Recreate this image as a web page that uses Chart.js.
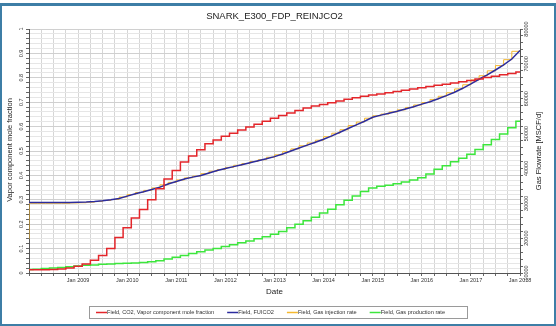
<!DOCTYPE html>
<html>
<head>
<meta charset="utf-8">
<script src="https://cdn.jsdelivr.net/npm/chart.js@4.4.0/dist/chart.umd.min.js"></script>
<style>
  html, body { margin: 0; padding: 0; background: #fff; }
  #frame { position: absolute; left: 0; top: 3px; width: 556px; height: 323px; box-sizing: border-box; border: 2px solid #3d7ea6; border-top-width: 3px; }
  #chart { position: absolute; left: 0; top: 0; }
</style>
</head>
<body>
<div id="frame"></div>
<canvas id="chart" width="556" height="326"></canvas>
<script>
// bimonthly report dates
const dates = [
  '2008-01','2008-03','2008-05','2008-07','2008-09','2008-11',
  '2009-01','2009-03','2009-05','2009-07','2009-09','2009-11',
  '2010-01','2010-03','2010-05','2010-07','2010-09','2010-11',
  '2011-01','2011-03','2011-05','2011-07','2011-09','2011-11',
  '2012-01','2012-03','2012-05','2012-07','2012-09','2012-11',
  '2013-01','2013-03','2013-05','2013-07','2013-09','2013-11',
  '2014-01','2014-03','2014-05','2014-07','2014-09','2014-11',
  '2015-01','2015-03','2015-05','2015-07','2015-09','2015-11',
  '2016-01','2016-03','2016-05','2016-07','2016-09','2016-11',
  '2017-01','2017-03','2017-05','2017-07','2017-09','2017-11',
  '2018-01'
];

const co2Fraction = [
  0.013, 0.013, 0.013, 0.014, 0.016, 0.020,
  0.028, 0.037, 0.052, 0.072, 0.100, 0.145,
  0.185, 0.225, 0.260, 0.300, 0.345, 0.385,
  0.420, 0.455, 0.480, 0.505, 0.530, 0.545,
  0.560, 0.573, 0.586, 0.598, 0.610, 0.622,
  0.634, 0.645, 0.656, 0.666, 0.676, 0.684,
  0.691, 0.698, 0.705, 0.712, 0.718, 0.724,
  0.729, 0.734, 0.739, 0.744, 0.749, 0.754,
  0.759, 0.764, 0.769, 0.774, 0.779, 0.784,
  0.789, 0.795, 0.801, 0.806, 0.812, 0.818,
  0.824
];

const fuico2 = [
  0.289, 0.289, 0.289, 0.289, 0.289, 0.289,
  0.290, 0.291, 0.293, 0.296, 0.300, 0.305,
  0.315, 0.325, 0.333, 0.342, 0.352, 0.365,
  0.375, 0.385, 0.393, 0.400, 0.410, 0.420,
  0.428, 0.436, 0.444, 0.452, 0.460, 0.468,
  0.477, 0.488, 0.500, 0.512, 0.524, 0.536,
  0.548, 0.562, 0.577, 0.592, 0.607, 0.622,
  0.638, 0.647, 0.655, 0.663, 0.672, 0.681,
  0.692, 0.702, 0.714, 0.727, 0.741, 0.757,
  0.775, 0.794, 0.812, 0.832, 0.853, 0.877,
  0.912
];

const injDates = ['2008-01-01', '2008-01-01', '2008-01-15'].concat(dates.slice(1));
const gasInjRate = [
  19800, 28600, 30000,
  30000, 30000, 30000, 30000, 30000,
  30100, 30150, 30300, 30500, 30800, 31100,
  31800, 32500, 33100, 33700, 34400, 35300,
  36000, 36700, 37300, 37800, 38500, 39200,
  39700, 40300, 40900, 41400, 42000, 42500,
  43200, 43900, 44800, 45600, 46500, 47300,
  48100, 49100, 50100, 51100, 52300, 53300,
  54400, 55100, 55600, 56200, 56800, 57500,
  58200, 58900, 59800, 60700, 61700, 62800,
  64000, 65400, 66600, 68000, 69500, 71200,
  73600
];

const gasProdRate = [
  11000, 11100, 11300, 11400, 11600, 11800,
  12000, 12200, 12300, 12500, 12600, 12700,
  12800, 12900, 13000, 13200, 13500, 14000,
  14500, 15000, 15600, 16100, 16600, 17000,
  17600, 18100, 18700, 19200, 19800, 20400,
  21100, 21900, 23000, 24000, 25000, 26000,
  27200, 28300, 29600, 30900, 32100, 33400,
  34400, 34900, 35200, 35600, 36100, 36700,
  37300, 38400, 39800, 40800, 41900, 42900,
  44100, 45400, 46800, 48300, 49900, 51700,
  53500
];

const seriesNames = [
  'Field, CO2, Vapor component mole fraction',
  'Field, FUICO2',
  'Field, Gas injection rate',
  'Field, Gas production rate'
];

function toYear(s) {
  const p = s.split('-').map(Number);
  return p[0] + (p[1] - 1) / 12 + (p[2] ? (p[2] - 1) / 365 : 0);
}
function pts(ds, vals) {
  return ds.map((d, i) => ({ x: toYear(d), y: vals[i] }));
}

const FONT = '"Liberation Sans", Arial, sans-serif';
Chart.defaults.font.family = FONT;

const textPlugin = {
  id: 'texts',
  afterDraw(chart) {
    const c = chart.ctx;
    const area = chart.chartArea;
    c.save();
    c.fillStyle = '#222';
    c.textAlign = 'center';
    c.textBaseline = 'middle';
    c.font = '9.5px ' + FONT;
    c.fillText('SNARK_E300_FDP_REINJCO2', (area.left + area.right) / 2, 16);
    c.font = '8px ' + FONT;
    c.fillText('Date', (area.left + area.right) / 2, 292);

    c.font = '7.5px ' + FONT;
    c.save();
    c.translate(10, 150);
    c.rotate(-Math.PI / 2);
    c.fillText('Vapor component mole fraction', 0, 0);
    c.restore();
    c.save();
    c.translate(539, 151);
    c.rotate(-Math.PI / 2);
    c.fillText('Gas Flowrate [MSCF/d]', 0, 0);
    c.restore();

    // legend box
    c.strokeStyle = '#9a9a9a';
    c.lineWidth = 1;
    c.strokeRect(89.5, 306.5, 378, 12);
    c.font = '5.6px ' + FONT;
    c.textAlign = 'left';
    let x = 96;
    chart.data.datasets.forEach(ds => {
      c.strokeStyle = ds.borderColor;
      c.lineWidth = 1.5;
      c.beginPath();
      c.moveTo(x, 312.5);
      c.lineTo(x + 11, 312.5);
      c.stroke();
      c.fillStyle = '#333';
      c.fillText(ds.label, x + 11, 312.5);
      x += 11 + c.measureText(ds.label).width + 13;
    });
    c.restore();
  }
};

new Chart(document.getElementById('chart'), {
  type: 'line',
  data: {
    datasets: [{
      label: seriesNames[0],
      data: pts(dates, co2Fraction),
      yAxisID: 'y',
      borderColor: '#e3262b',
      borderWidth: 1.5,
      stepped: 'middle'
    }, {
      label: seriesNames[1],
      data: pts(dates, fuico2),
      yAxisID: 'y',
      borderColor: '#2c2c9e',
      borderWidth: 1.5
    }, {
      label: seriesNames[2],
      data: pts(injDates, gasInjRate),
      yAxisID: 'y2',
      borderColor: '#f5b82e',
      borderWidth: 1,
      stepped: 'after'
    }, {
      label: seriesNames[3],
      data: pts(dates, gasProdRate),
      yAxisID: 'y2',
      borderColor: '#3de63d',
      borderWidth: 1.5,
      stepped: 'middle'
    }]
  },
  options: {
    responsive: false,
    animation: false,
    devicePixelRatio: 1,
    layout: { padding: { top: 29, left: 0, right: 0, bottom: 0 } },
    elements: { point: { radius: 0 }, line: { tension: 0, fill: false } },
    plugins: { legend: { display: false }, title: { display: false }, tooltip: { enabled: false } },
    scales: {
      x: {
        type: 'linear',
        position: 'bottom',
        min: 2008,
        max: 2018,
        afterFit: s => { s.height = 53; },
        ticks: {
          stepSize: 0.25,
          autoSkip: false,
          minRotation: 0,
          maxRotation: 0,
          padding: 1,
          color: '#333',
          font: { size: 5.5 },
          callback: v => (Number.isInteger(v) && v > 2008) ? 'Jan ' + v : ''
        },
        grid: { color: '#d6d6d6', tickLength: 3, tickColor: '#666' },
        border: { color: '#555' }
      },
      y: {
        position: 'left',
        min: 0,
        max: 1,
        afterFit: s => { s.width = 29; },
        ticks: {
          stepSize: 0.02,
          autoSkip: false,
          minRotation: 90,
          maxRotation: 90,
          crossAlign: 'center',
          padding: 1,
          color: '#333',
          font: { size: 5.5 },
          callback: v => Math.abs(v * 10 - Math.round(v * 10)) < 1e-6 ? String(Math.round(v * 10) / 10) : ''
        },
        grid: {
          color: c => (Math.abs(c.tick.value * 10 - Math.round(c.tick.value * 10)) < 1e-6) ? '#d0d0d0' : '#e6e6e6',
          tickLength: 3,
          tickColor: '#666'
        },
        border: { color: '#555' }
      },
      y2: {
        position: 'right',
        min: 10000,
        max: 80000,
        afterFit: s => { s.width = 36; },
        ticks: {
          stepSize: 2000,
          autoSkip: false,
          minRotation: 90,
          maxRotation: 90,
          crossAlign: 'center',
          padding: -4.5,
          color: '#333',
          font: { size: 5.5 },
          callback: v => v % 10000 === 0 ? String(v) : ''
        },
        grid: { drawOnChartArea: false, tickLength: 3, tickColor: '#666' },
        border: { color: '#555' }
      }
    }
  },
  plugins: [textPlugin]
});
</script>
</body>
</html>
